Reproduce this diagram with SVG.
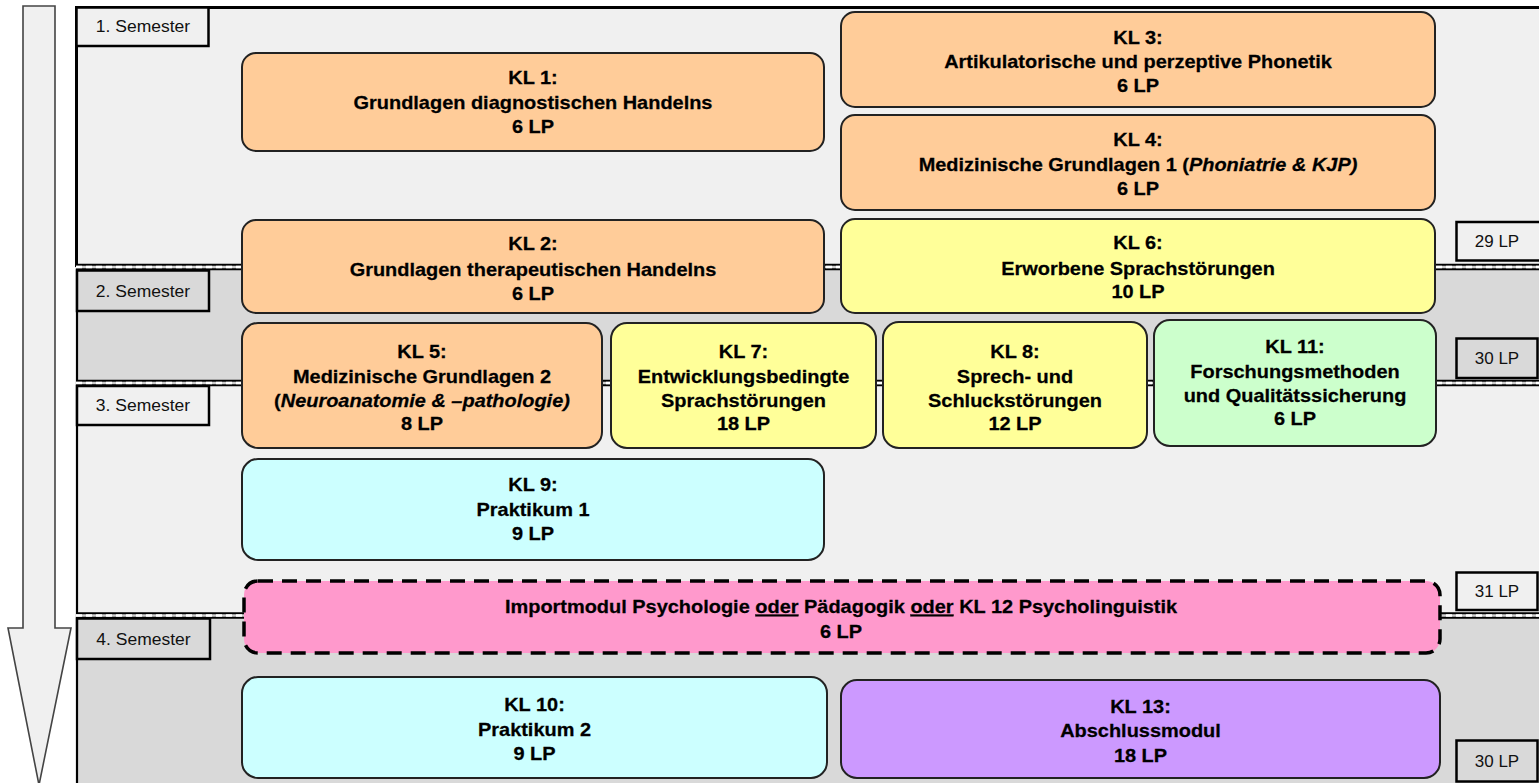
<svg xmlns="http://www.w3.org/2000/svg" width="1539" height="783" viewBox="0 0 1539 783">
<style>
.n{stroke:#222;stroke-width:2}
.t{font-family:"Liberation Sans",Arial,sans-serif;font-weight:bold;font-size:19px;text-anchor:middle;fill:#000;stroke:#000;stroke-width:0.25}
.s{font-family:"Liberation Sans",Arial,sans-serif;font-size:17px;text-anchor:middle;fill:#111}
.lp{font-family:"Liberation Sans",Arial,sans-serif;font-size:16.5px;text-anchor:middle;fill:#111}
.lb{stroke:#000;stroke-width:2.5}
.light{fill:#f0f0f0}
.dark{fill:#d9d9d9}
.or{fill:#ffcc99}
.ye{fill:#ffff99}
.gr{fill:#ccffcc}
.cy{fill:#ccffff}
.pk{fill:#ff99cc}
.pu{fill:#cc99ff}
.i{font-style:italic}
</style>
<rect width="1539" height="783" fill="#fff"/>
<!-- time arrow -->
<g id="arrow">
<path d="M23,6 H55 V628 H71 L39,785 L8,628 H23 Z" fill="#f0f0f0" stroke="#444" stroke-width="1.6"/>
</g>
<!-- semester backgrounds -->
<g id="regions">
<rect x="76" y="7" width="1470" height="260" class="light"/>
<rect x="76" y="267" width="1470" height="116" class="dark"/>
<rect x="76" y="383" width="1470" height="232" class="light"/>
<rect x="76" y="615" width="1470" height="170" class="dark"/>
<path d="M76.5,267 V7.5 H1545" fill="none" stroke="#000" stroke-width="3"/>
<line x1="77" y1="267" x2="77" y2="785" stroke="#000" stroke-width="2.2"/>
</g>
<g id="boundaries">
<g>
<line x1="76" y1="267" x2="1539" y2="267" stroke="#000" stroke-width="6.5"/>
<line x1="76" y1="267" x2="1539" y2="267" stroke="#cfcfcf" stroke-width="2.5"/>
<line x1="76" y1="267" x2="1539" y2="267" stroke="#fff" stroke-width="2.5" stroke-dasharray="6,4"/>
</g>
<g>
<line x1="76" y1="383" x2="1539" y2="383" stroke="#000" stroke-width="6.5"/>
<line x1="76" y1="383" x2="1539" y2="383" stroke="#cfcfcf" stroke-width="2.5"/>
<line x1="76" y1="383" x2="1539" y2="383" stroke="#fff" stroke-width="2.5" stroke-dasharray="6,4"/>
</g>
<g>
<line x1="76" y1="615.5" x2="1539" y2="615.5" stroke="#000" stroke-width="6.5"/>
<line x1="76" y1="615.5" x2="1539" y2="615.5" stroke="#cfcfcf" stroke-width="2.5"/>
<line x1="76" y1="615.5" x2="1539" y2="615.5" stroke="#fff" stroke-width="2.5" stroke-dasharray="6,4"/>
</g>
</g>
<!-- semester labels -->
<g id="sem1"><rect x="76.5" y="7.5" width="132" height="38.5" class="light lb"/><text class="s" transform="translate(143,0) scale(1.03,1)" x="0" y="32">1. Semester</text></g>
<g id="sem2"><rect x="77" y="270.5" width="132" height="40.5" class="dark lb"/><text class="s" transform="translate(143,0) scale(1.03,1)" x="0" y="297">2. Semester</text></g>
<g id="sem3"><rect x="77" y="386" width="132" height="39" class="light lb"/><text class="s" transform="translate(143,0) scale(1.03,1)" x="0" y="411.5">3. Semester</text></g>
<g id="sem4"><rect x="77" y="618.5" width="133" height="40.5" class="dark lb"/><text class="s" transform="translate(143.5,0) scale(1.03,1)" x="0" y="645">4. Semester</text></g>
<!-- LP sums -->
<g id="lp1"><rect x="1456.5" y="222" width="85" height="38.5" class="light lb"/><text class="lp" transform="translate(1497,0) scale(1.03,1)" x="0" y="247.5">29 LP</text></g>
<g id="lp2"><rect x="1456.5" y="338.5" width="81" height="39.5" class="dark lb"/><text class="lp" transform="translate(1497,0) scale(1.03,1)" x="0" y="364">30 LP</text></g>
<g id="lp3"><rect x="1456.5" y="572.5" width="81" height="37.5" class="light lb"/><text class="lp" transform="translate(1497,0) scale(1.03,1)" x="0" y="597">31 LP</text></g>
<g id="lp4"><rect x="1456.5" y="740.5" width="81" height="41" class="dark lb"/><text class="lp" transform="translate(1497,0) scale(1.03,1)" x="0" y="767">30 LP</text></g>
<!-- connectors (none shown in the picture) -->
<g id="connectors"></g>
<!-- modules -->
<g id="kl1"><rect x="242" y="53" width="582" height="98" rx="14" class="n or"/>
<text class="t" transform="translate(533,0) scale(1.05,1)"><tspan x="0" y="84">KL 1:</tspan><tspan x="0" y="109">Grundlagen diagnostischen Handelns</tspan><tspan x="0" y="133">6 LP</tspan></text></g>
<g id="kl3"><rect x="841" y="12" width="594" height="95" rx="14" class="n or"/>
<text class="t" transform="translate(1138,0) scale(1.05,1)"><tspan x="0" y="44">KL 3:</tspan><tspan x="0" y="68">Artikulatorische und perzeptive Phonetik</tspan><tspan x="0" y="92.5">6 LP</tspan></text></g>
<g id="kl4"><rect x="841" y="115" width="594" height="95" rx="14" class="n or"/>
<text class="t" transform="translate(1138,0) scale(1.05,1)"><tspan x="0" y="146">KL 4:</tspan><tspan x="0" y="171">Medizinische Grundlagen 1 (<tspan class="i">Phoniatrie &amp; KJP)</tspan></tspan><tspan x="0" y="195">6 LP</tspan></text></g>
<g id="kl2"><rect x="242" y="220" width="582" height="93" rx="14" class="n or"/>
<text class="t" transform="translate(533,0) scale(1.05,1)"><tspan x="0" y="250">KL 2:</tspan><tspan x="0" y="276.5">Grundlagen therapeutischen Handelns</tspan><tspan x="0" y="300">6 LP</tspan></text></g>
<g id="kl6"><rect x="841" y="219" width="594" height="94" rx="14" class="n ye"/>
<text class="t" transform="translate(1138,0) scale(1.05,1)"><tspan x="0" y="249">KL 6:</tspan><tspan x="0" y="275">Erworbene Sprachstörungen</tspan><tspan x="0" y="298">10 LP</tspan></text></g>
<g id="kl5"><rect x="242" y="323" width="360" height="125" rx="16" class="n or"/>
<text class="t" transform="translate(422,0) scale(1.05,1)"><tspan x="0" y="358">KL 5:</tspan><tspan x="0" y="383">Medizinische Grundlagen 2</tspan><tspan x="0" y="407">(<tspan class="i">Neuroanatomie &amp; –pathologie)</tspan></tspan><tspan x="0" y="430">8 LP</tspan></text></g>
<g id="kl7"><rect x="611" y="323" width="265" height="125" rx="16" class="n ye"/>
<text class="t" transform="translate(743.5,0) scale(1.05,1)"><tspan x="0" y="358">KL 7:</tspan><tspan x="0" y="383">Entwicklungsbedingte</tspan><tspan x="0" y="407">Sprachstörungen</tspan><tspan x="0" y="430">18 LP</tspan></text></g>
<g id="kl8"><rect x="883" y="322" width="264" height="126" rx="16" class="n ye"/>
<text class="t" transform="translate(1015,0) scale(1.05,1)"><tspan x="0" y="358">KL 8:</tspan><tspan x="0" y="383">Sprech- und</tspan><tspan x="0" y="407">Schluckstörungen</tspan><tspan x="0" y="430">12 LP</tspan></text></g>
<g id="kl11"><rect x="1154" y="320" width="282" height="126" rx="16" class="n gr"/>
<text class="t" transform="translate(1295,0) scale(1.05,1)"><tspan x="0" y="353">KL 11:</tspan><tspan x="0" y="378.5">Forschungsmethoden</tspan><tspan x="0" y="402.5">und Qualitätssicherung</tspan><tspan x="0" y="425">6 LP</tspan></text></g>
<g id="kl9"><rect x="242" y="459" width="582" height="101" rx="16" class="n cy"/>
<text class="t" transform="translate(533,0) scale(1.05,1)"><tspan x="0" y="491">KL 9:</tspan><tspan x="0" y="516">Praktikum 1</tspan><tspan x="0" y="540">9 LP</tspan></text></g>
<g id="import"><rect x="244" y="581" width="1196" height="72" rx="14" class="pk" stroke="#000" stroke-width="3.5" stroke-dasharray="15,9"/>
<text class="t" transform="translate(841,0) scale(1.05,1)"><tspan x="0" y="613.5">Importmodul Psychologie <tspan text-decoration="underline">oder</tspan> Pädagogik <tspan text-decoration="underline">oder</tspan> KL 12 Psycholinguistik</tspan><tspan x="0" y="638.5">6 LP</tspan></text></g>
<g id="kl10"><rect x="242" y="677" width="585" height="101" rx="16" class="n cy"/>
<text class="t" transform="translate(534.5,0) scale(1.05,1)"><tspan x="0" y="711.5">KL 10:</tspan><tspan x="0" y="736">Praktikum 2</tspan><tspan x="0" y="760.5">9 LP</tspan></text></g>
<g id="kl13"><rect x="841" y="680" width="599" height="98" rx="16" class="n pu"/>
<text class="t" transform="translate(1140.5,0) scale(1.05,1)"><tspan x="0" y="713">KL 13:</tspan><tspan x="0" y="737.5">Abschlussmodul</tspan><tspan x="0" y="762">18 LP</tspan></text></g>
</svg>
